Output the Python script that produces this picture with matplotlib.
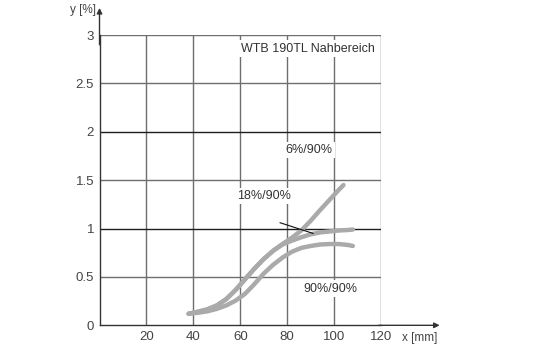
import matplotlib
matplotlib.use("Agg")
import matplotlib.pyplot as plt

plt.rcParams['font.family'] = ['Liberation Sans', 'DejaVu Sans']

# Data
x_6 = [38, 42, 46, 50, 54, 58, 62, 66, 70, 74, 78, 82, 86, 90, 94, 98, 102, 104]
y_6 = [0.12, 0.14, 0.165, 0.205, 0.27, 0.365, 0.475, 0.585, 0.685, 0.77, 0.84, 0.905, 0.98, 1.08, 1.19, 1.295, 1.40, 1.45]
x_18 = [38, 42, 46, 50, 54, 58, 62, 66, 70, 74, 78, 82, 86, 90, 94, 98, 102, 106, 108]
y_18 = [0.12, 0.14, 0.165, 0.205, 0.27, 0.365, 0.475, 0.585, 0.685, 0.77, 0.835, 0.875, 0.91, 0.94, 0.96, 0.97, 0.98, 0.985, 0.99]
x_90 = [38, 42, 46, 50, 54, 58, 62, 66, 70, 74, 78, 82, 86, 90, 94, 98, 102, 106, 108]
y_90 = [0.12, 0.13, 0.145, 0.17, 0.205, 0.255, 0.325, 0.425, 0.535, 0.625, 0.70, 0.76, 0.80, 0.82, 0.835, 0.84, 0.84, 0.83, 0.82]

x_ticks = [20, 40, 60, 80, 100, 120]
y_ticks = [0, 0.5, 1, 1.5, 2, 2.5, 3]
y_tick_labels = ['0', '0.5', '1', '1.5', '2', '2.5', '3']

curve_labels = ['6%/90%', '18%/90%', '90%/90%']
title_text = 'WTB 190TL Nahbereich'

fig = plt.figure(figsize=(5.51, 3.56), dpi=100)
ax = fig.add_axes([0.1806, 0.0862, 0.5109, 0.8154])
ax.set_xlim(0, 120)
ax.set_ylim(0, 3)

# grid
for xv in x_ticks:
    ax.axvline(xv, color='#6e6e6e', lw=1.0, zorder=1)
for yv in y_ticks[1:]:
    c = '#1e1e1e' if yv in (1, 2) else '#6e6e6e'
    ax.axhline(yv, color=c, lw=1.0, zorder=1)

for s in ['top', 'right']:
    ax.spines[s].set_visible(False)
ax.spines['left'].set_color('#333333')
ax.spines['bottom'].set_color('#333333')
ax.spines['left'].set_linewidth(1.0)
ax.spines['bottom'].set_linewidth(1.0)

ax.set_xticks(x_ticks)
ax.set_xticklabels([str(v) for v in x_ticks])
ax.set_yticks(y_ticks)
ax.set_yticklabels(y_tick_labels)
ax.tick_params(length=0, labelsize=9.5, colors='#444444', pad=4)

# arrows for axes
ax.annotate('', xy=(145, 0), xytext=(119, 0), xycoords='data',
            arrowprops=dict(arrowstyle='-|>', color='#333333', lw=1.0,
                            mutation_scale=8, shrinkA=0, shrinkB=0),
            annotation_clip=False)
ax.annotate('', xy=(0, 3.28), xytext=(0, 2.9), xycoords='data',
            arrowprops=dict(arrowstyle='-|>', color='#333333', lw=1.0,
                            mutation_scale=8, shrinkA=0, shrinkB=0),
            annotation_clip=False)
ax.text(129, -0.13, 'x [mm]', fontsize=8.5, color='#444444', ha='left', va='center', clip_on=False)
ax.text(-1.5, 3.26, 'y [%]', fontsize=8.5, color='#444444', ha='right', va='center', clip_on=False)

# curves
curve_color = '#aaaaaa'
ax.plot(x_90, y_90, color=curve_color, lw=3.2, solid_capstyle='round', solid_joinstyle='round', zorder=3)
ax.plot(x_18, y_18, color=curve_color, lw=3.2, solid_capstyle='round', solid_joinstyle='round', zorder=3)
ax.plot(x_6, y_6, color=curve_color, lw=3.2, solid_capstyle='round', solid_joinstyle='round', zorder=3)

# leader line
ax.plot([77, 91], [1.06, 0.95], color='#111111', lw=0.8, zorder=4)

bbox = dict(facecolor='white', edgecolor='none', pad=1.5)
ax.text(88.9, 2.86, title_text, fontsize=9, color='#333333', ha='center', va='center', bbox=bbox, zorder=5)
ax.text(89.3, 1.81, curve_labels[0], fontsize=9, color='#333333', ha='center', va='center', bbox=bbox, zorder=5)
ax.text(70.2, 1.34, curve_labels[1], fontsize=9, color='#333333', ha='center', va='center', bbox=bbox, zorder=5)
ax.text(98.3, 0.38, curve_labels[2], fontsize=9, color='#333333', ha='center', va='center', bbox=bbox, zorder=5)

fig.savefig('out.png', dpi=100)
